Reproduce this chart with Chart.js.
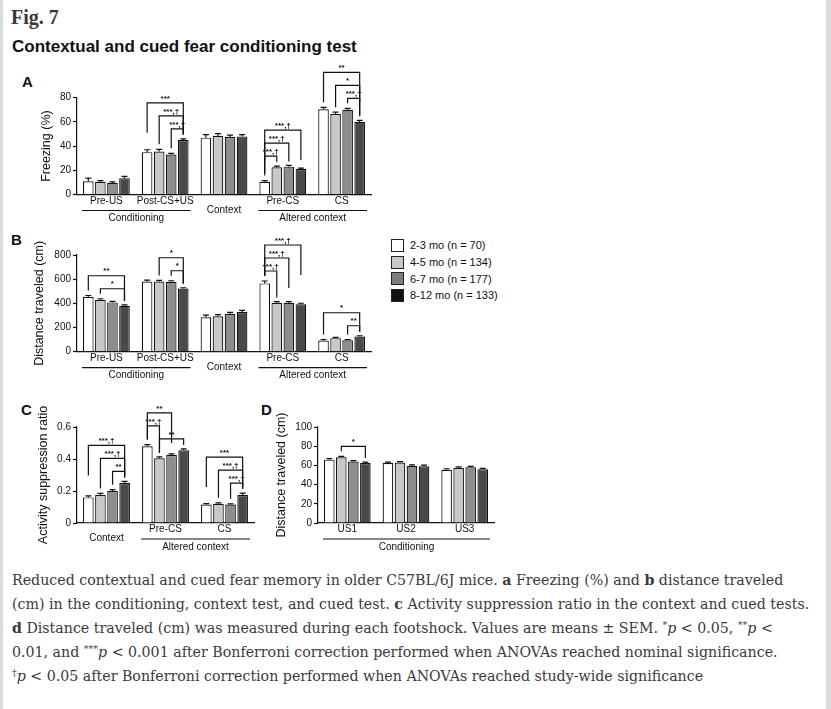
<!DOCTYPE html>
<html>
<head>
<meta charset="utf-8">
<script src="https://cdn.jsdelivr.net/npm/chart.js@4.4.0/dist/chart.umd.min.js"></script>
<style>
  body { margin: 0; background: #fff; }
  #page { position: relative; width: 831px; height: 709px; overflow: hidden; background: #fff; }
  .edge { position: absolute; top: 0; bottom: 0; background: #dcdcdc; }
  canvas { position: absolute; }
  .abs { position: absolute; white-space: nowrap; }
  .sans { font-family: "Liberation Sans", Arial, sans-serif; color: #111; }
  #fig { left: 11px; top: 6px; font: bold 20px "Liberation Serif", serif; color: #3b3734; }
  #title { left: 12px; top: 37px; font-weight: bold; font-size: 17px; color: #111; }
  .letter { font-weight: bold; font-size: 15px; color: #111; }
  #legend { left: 391px; top: 237px; font-size: 11px; }
  #legend div { height: 16.7px; display: flex; align-items: center; }
  #legend span.box { width: 11px; height: 11px; border: 1.2px solid #222; margin-right: 6px; }
  #caption { left: 12px; top: 568px; font: 14.2px/24px "DejaVu Serif", serif; color: #3a3a3a; }
  #caption sup { font-size: 9.5px; line-height: 0; vertical-align: 5px; }
</style>
</head>
<body>
<div id="page">
  <div class="edge" style="left:0;width:3px"></div>
  <div class="edge" style="left:826px;width:5px"></div>

  <div id="fig" class="abs">Fig. 7</div>
  <div id="title" class="abs sans">Contextual and cued fear conditioning test</div>

  <div class="abs sans letter" style="left:22px;top:73px">A</div>
  <div class="abs sans letter" style="left:11px;top:231px">B</div>
  <div class="abs sans letter" style="left:21px;top:401px">C</div>
  <div class="abs sans letter" style="left:261px;top:401px">D</div>

  <canvas id="chartA"></canvas>
  <canvas id="chartB"></canvas>
  <canvas id="chartC"></canvas>
  <canvas id="chartD"></canvas>

  <div id="legend" class="abs sans"></div>

  <div id="caption" class="abs">
    Reduced contextual and cued fear memory in older C57BL/6J mice. <b>a</b> Freezing (%) and <b>b</b> distance traveled<br>
    (cm) in the conditioning, context test, and cued test. <b>c</b> Activity suppression ratio in the context and cued tests.<br>
    <b>d</b> Distance traveled (cm) was measured during each footshock. Values are means ± SEM. <sup>*</sup><i>p</i> &lt; 0.05, <sup>**</sup><i>p</i> &lt;<br>
    0.01, and <sup>***</sup><i>p</i> &lt; 0.001 after Bonferroni correction performed when ANOVAs reached nominal significance.<br>
    <sup>†</sup><i>p</i> &lt; 0.05 after Bonferroni correction performed when ANOVAs reached study-wide significance
  </div>
</div>

<script>
// age groups (one dataset each)
const ageLabels = ['2-3 mo (n = 70)', '4-5 mo (n = 134)', '6-7 mo (n = 177)', '8-12 mo (n = 133)'];

// panel A / B categories
const testPhases = ['Pre-US', 'Post-CS+US', 'Context', 'Pre-CS', 'CS'];
// rows = age groups
const freezing = [
  [11, 35, 47, 10.5, 70.5],
  [10.5, 35.5, 48.5, 22.5, 66.5],
  [9.5, 33, 47.5, 23, 70],
  [13.5, 45, 48, 21, 60]
];
const freezingSem = [
  [2.5, 2, 2.5, 1, 1.5],
  [1, 1.8, 1.8, 1, 1.5],
  [1, 1, 1.5, 1, 1.2],
  [1.5, 1, 1.5, 0.8, 1.3]
];
// [category, from bar, to bar, label]
const freezingSig = [
  [1, 2, 3, '***,†'], [1, 1, 3, '***,†'], [1, 0, 3, '***'],
  [3, 0, 1, '***,†'], [3, 0, 2, '***,†'], [3, 0, 3, '***,†'],
  [4, 2, 3, '***,†'], [4, 1, 3, '*'], [4, 0, 3, '**']
];

const distance = [
  [455, 580, 285, 565, 93],
  [430, 580, 293, 405, 112],
  [408, 578, 312, 405, 95],
  [380, 522, 328, 393, 125]
];
const distanceSem = [
  [10, 12, 18, 20, 8],
  [8, 10, 14, 10, 6],
  [8, 9, 14, 9, 6],
  [7, 7, 14, 8, 7]
];
const distanceSig = [
  [0, 1, 3, '*'], [0, 0, 3, '**'],
  [1, 2, 3, '*'], [1, 1, 3, '*'],
  [3, 0, 1, '***,†'], [3, 0, 2, '***,†'], [3, 0, 3, '***,†'],
  [4, 2, 3, '**'], [4, 0, 3, '*']
];

// panel C
const ratioPhases = ['Context', 'Pre-CS', 'CS'];
const suppression = [
  [0.16, 0.48, 0.115],
  [0.175, 0.405, 0.12],
  [0.2, 0.425, 0.115],
  [0.25, 0.455, 0.175]
];
const suppressionSem = [
  [0.01, 0.01, 0.006],
  [0.01, 0.008, 0.006],
  [0.008, 0.007, 0.005],
  [0.01, 0.008, 0.012]
];
const suppressionSig = [
  [0, 2, 3, '**'], [0, 1, 3, '***,†'], [0, 0, 3, '***,†'],
  [1, 1, 3, '**'], [1, 0, 1, '***,†'], [1, 0, 2, '**'],
  [2, 2, 3, '***,†'], [2, 1, 3, '***,†'], [2, 0, 3, '***']
];

// panel D
const shocks = ['US1', 'US2', 'US3'];
const shockDistance = [
  [66, 62.5, 55.5],
  [68.5, 63, 57.5],
  [64, 59.5, 58],
  [62.5, 59, 56]
];
const shockSem = [
  [1, 1, 1],
  [1, 1, 1],
  [1, 1, 1],
  [1, 1.2, 1]
];
const shockSig = [[0, 1, 3, '*']];

const barFills = ['#ffffff', '#c8c8c8', '#8d8d8d', '#494949'];
const legendFills = ['#ffffff', '#c8c8c8', '#7d7d7d', '#111111'];
const ink = '#111';
const sans = '"Liberation Sans", Arial, sans-serif';
const titleSize = 12.5;

// error bars, significance brackets and grouped x labels
const extras = {
  id: 'extras',
  afterDatasetsDraw(chart, args, opts) {
    const ctx = chart.ctx, y = chart.scales.y, area = chart.chartArea;
    const ds = chart.data.datasets;
    const metas = ds.map((d, i) => chart.getDatasetMeta(i));
    const barTop = (i, c) => y.getPixelForValue(ds[i].data[c] + opts.sem[i][c]);
    ctx.save();
    ctx.strokeStyle = ink;
    ctx.fillStyle = ink;
    ctx.lineWidth = 1.2;

    metas.forEach((m, i) => m.data.forEach((el, c) => {
      const t = barTop(i, c);
      ctx.beginPath();
      ctx.moveTo(el.x, el.y); ctx.lineTo(el.x, t);
      ctx.moveTo(el.x - 3, t); ctx.lineTo(el.x + 3, t);
      ctx.stroke();
    }));

    ctx.font = 'bold 8px ' + sans;
    ctx.textAlign = 'center';
    ctx.textBaseline = 'bottom';
    let lastCat = -1, prev = 0;
    opts.sig.forEach(([c, a, b, txt]) => {
      let low = Infinity;
      for (let k = a; k <= b; k++) low = Math.min(low, barTop(k, c));
      let top = low - 10;
      if (c === lastCat) top = Math.min(top, prev - 13);
      lastCat = c; prev = top;
      const xa = metas[a].data[c].x, xb = metas[b].data[c].x;
      const la = Math.min(barTop(a, c) - 5, top + 30);
      const lb = Math.min(barTop(b, c) - 4, top + 30);
      ctx.beginPath();
      ctx.moveTo(xa, la); ctx.lineTo(xa, top); ctx.lineTo(xb, top); ctx.lineTo(xb, lb);
      ctx.stroke();
      ctx.fillText(txt, (xa + xb) / 2, top - 0.5);
    });

    ctx.font = '10px ' + sans;
    ctx.textBaseline = 'middle';
    opts.groups.forEach(([from, to, txt]) => {
      const f = metas[0].data[from], l = metas[3].data[to];
      const x0 = f.x - f.width / 2 - 1, x1 = l.x + l.width / 2 + 2;
      ctx.beginPath();
      ctx.moveTo(x0, area.bottom + 16); ctx.lineTo(x1, area.bottom + 16);
      ctx.stroke();
      ctx.fillText(txt, (x0 + x1) / 2, area.bottom + 24);
    });
    ctx.restore();
  }
};

function panel(id, box, area, cats, means, sem, sig, groups, max, step, yTitle, titleX) {
  const cv = document.getElementById(id);
  cv.width = box.w; cv.height = box.h;
  cv.style.left = box.x + 'px'; cv.style.top = box.y + 'px';
  new Chart(cv, {
    type: 'bar',
    data: {
      labels: cats,
      datasets: means.map((m, i) => ({
        label: ageLabels[i],
        data: m,
        backgroundColor: barFills[i],
        borderColor: ink,
        borderWidth: 1.2,
        barPercentage: 0.88,
        categoryPercentage: 0.82
      }))
    },
    options: {
      responsive: false,
      animation: false,
      layout: { padding: { left: 0, top: area.t - box.y, right: box.x + box.w - area.r, bottom: 0 } },
      plugins: {
        legend: { display: false },
        tooltip: { enabled: false },
        extras: { sem, sig, groups }
      },
      scales: {
        x: {
          grid: { display: false, drawTicks: false },
          border: { color: ink, width: 1.2 },
          ticks: {
            color: ink, font: { family: sans, size: 10, lineHeight: 0.9 }, padding: 2,
            maxRotation: 0, autoSkip: false,
            callback(v) { const s = this.getLabelForValue(v); return s === 'Context' ? ['', s] : s; }
          },
          afterFit(s) { s.height = box.y + box.h - area.b; }
        },
        y: {
          min: 0, max: max,
          grid: { drawOnChartArea: false, tickLength: 4, color: ink, tickWidth: 1.2 },
          border: { color: ink, width: 1.2 },
          ticks: { stepSize: step, color: ink, font: { family: sans, size: 10 }, padding: 2 },
          title: {
            display: true, text: yTitle, color: ink,
            font: { family: sans, size: titleSize, lineHeight: 1.2 },
            padding: { top: titleX - box.x - titleSize * 0.6, bottom: 0 }
          },
          afterFit(s) { s.width = area.l - box.x; }
        }
      }
    },
    plugins: [extras]
  });
}

panel('chartA', { x: 0, y: 56, w: 380, h: 176 }, { l: 77, t: 97.7, r: 371, b: 194.5 },
  testPhases, freezing, freezingSem, freezingSig, [[0, 1, 'Conditioning'], [3, 4, 'Altered context']],
  80, 20, 'Freezing (%)', 47);

panel('chartB', { x: 0, y: 226, w: 380, h: 160 }, { l: 77, t: 255, r: 371, b: 351.7 },
  testPhases, distance, distanceSem, distanceSig, [[0, 1, 'Conditioning'], [3, 4, 'Altered context']],
  800, 200, 'Distance traveled (cm)', 40);

panel('chartC', { x: 0, y: 392, w: 262, h: 165 }, { l: 77, t: 427, r: 254, b: 523 },
  ratioPhases, suppression, suppressionSem, suppressionSig, [[1, 2, 'Altered context']],
  0.6, 0.2, 'Activity suppression ratio', 44);

panel('chartD', { x: 250, y: 392, w: 250, h: 165 }, { l: 318, t: 427, r: 494, b: 523 },
  shocks, shockDistance, shockSem, shockSig, [[0, 2, 'Conditioning']],
  100, 20, 'Distance traveled (cm)', 282);

// legend
const legend = document.getElementById('legend');
ageLabels.forEach((t, i) => {
  const row = document.createElement('div');
  const box = document.createElement('span');
  box.className = 'box';
  box.style.background = legendFills[i];
  row.appendChild(box);
  row.appendChild(document.createTextNode(t));
  legend.appendChild(row);
});
</script>
</body>
</html>
